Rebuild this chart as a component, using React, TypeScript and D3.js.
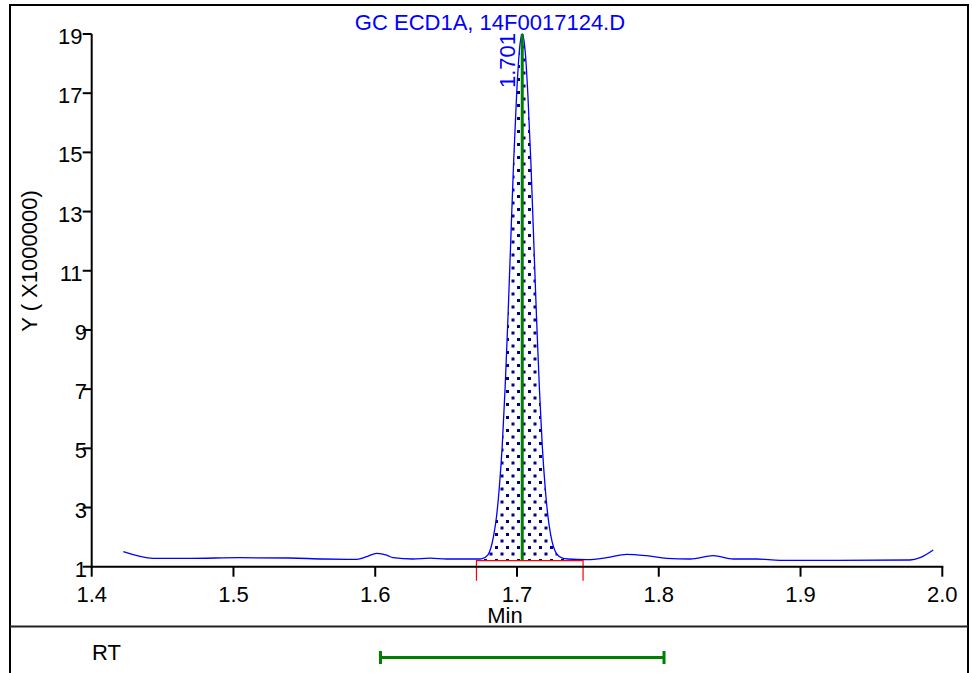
import React from "react";
import * as d3 from "d3";

// ---- data ----
const traceTimes = [
  1.4223, 1.4435, 1.4693, 1.5046, 1.5399, 1.5632, 1.5869, 1.594, 1.601, 1.6081,
  1.6125, 1.6266, 1.6386, 1.6504, 1.6739,
  1.6754, 1.6795, 1.6835, 1.6855, 1.6875, 1.6896, 1.6916, 1.6936, 1.6956, 1.6976,
  1.6997, 1.7017, 1.7037, 1.7057, 1.7077, 1.7098, 1.7118, 1.7138, 1.7158, 1.7178,
  1.7199, 1.7219, 1.7239, 1.728, 1.732, 1.736,
  1.7492, 1.7633, 1.7774, 1.7915, 1.8056, 1.8221, 1.8385, 1.8526, 1.8691, 1.8855,
  1.9255, 1.9772, 1.9843, 1.9936,
];
const traceValues = [
  1.507, 1.284, 1.284, 1.304, 1.294, 1.26, 1.25, 1.338, 1.453, 1.395,
  1.304, 1.26, 1.29, 1.26, 1.26,
  1.27, 1.4, 2.04, 2.67, 3.66, 5.1, 7.02, 9.38, 12.02, 14.65,
  16.92, 18.45, 19.0, 18.45, 16.92, 14.65, 12.02, 9.38, 7.02, 5.1,
  3.66, 2.67, 2.04, 1.43, 1.29, 1.26,
  1.237, 1.304, 1.419, 1.372, 1.284, 1.26, 1.372, 1.26, 1.26, 1.216,
  1.216, 1.226, 1.304, 1.564,
];
const xTicks = [1.4, 1.5, 1.6, 1.7, 1.8, 1.9, 2.0];
const yTicks = [1, 3, 5, 7, 9, 11, 13, 15, 17, 19];
const peakApex = 1.7037;
const peakLabel = "1.701";
const integStart = 1.6714;
const integEnd = 1.7466;
const integBaseline = 1.203;
const rtWindow = [1.6037, 1.8037];
const title = "GC ECD1A, 14F0017124.D";
const yTitle = "Y ( X1000000)";
const xTitle = "Min";
const rtLabel = "RT";

const FONT = "'Liberation Sans', Arial, sans-serif";

export default function App() {
  const x = d3.scaleLinear().domain([1.4, 2.0]).range([91.7, 942.3]);
  const y = d3.scaleLinear().domain([1, 19]).range([566.7, 34]);
  const pts = traceTimes.map((t, i) => [t, traceValues[i]] as [number, number]);
  const line = d3
    .line<[number, number]>()
    .x((d) => x(d[0]))
    .y((d) => y(d[1]))
    .curve(d3.curveMonotoneX);
  const area = d3
    .area<[number, number]>()
    .x((d) => x(d[0]))
    .y0(y(integBaseline))
    .y1((d) => y(d[1]))
    .curve(d3.curveMonotoneX);
  const fs = 22;
  const by = y(integBaseline);
  return (
    <svg
      width={972}
      height={673}
      style={{ position: "absolute", left: 0, top: 0, background: "#fff" }}
      fontFamily={FONT}
    >
      <defs>
        <pattern id="dots" width={11} height={13} patternUnits="userSpaceOnUse">
          <rect x={0} y={0} width={3} height={3} fill="#000080" />
          <rect x={5.5} y={6.5} width={3} height={3} fill="#000080" />
        </pattern>
        <clipPath id="integ">
          <rect x={x(integStart)} y={0} width={x(integEnd) - x(integStart)} height={by} />
        </clipPath>
      </defs>
      {/* frame */}
      <line x1={10} y1={5} x2={10} y2={673} stroke="#000" strokeWidth={2} />
      <line x1={9} y1={5} x2={969} y2={5} stroke="#000" strokeWidth={2} />
      <line x1={968} y1={5} x2={968} y2={673} stroke="#000" strokeWidth={2} />
      <line x1={10} y1={626.5} x2={968} y2={626.5} stroke="#222" strokeWidth={2} />

      {/* title */}
      <text x={490} y={30} fill="#0000ff" fontSize={fs} textAnchor="middle">
        {title}
      </text>

      {/* filled peak */}
      <path d={area(pts) || ""} fill="url(#dots)" clipPath="url(#integ)" />
      {/* trace */}
      <path d={line(pts) || ""} fill="none" stroke="#0000ff" strokeWidth={1.3} />
      {/* apex line */}
      <line
        x1={x(peakApex)}
        x2={x(peakApex)}
        y1={y(19)}
        y2={by}
        stroke="#008000"
        strokeWidth={3}
      />
      {/* integration baseline */}
      <path
        d={`M${x(integStart)},${by + 20}V${by}H${x(integEnd)}V${by + 20}`}
        fill="none"
        stroke="#ff0000"
        strokeWidth={1.2}
      />
      <text
        transform={`translate(${x(peakApex) - 7},88) rotate(-90)`}
        fill="#0000ff"
        fontSize={fs}
      >
        {peakLabel}
      </text>

      {/* y axis */}
      <line x1={x(1.4)} x2={x(1.4)} y1={y(19)} y2={y(1) + 1} stroke="#000" strokeWidth={2} />
      {yTicks.map((v) => (
        <g key={v}>
          <line x1={x(1.4) - 9} x2={x(1.4)} y1={y(v)} y2={y(v)} stroke="#000" strokeWidth={2} />
          <text
            x={v >= 10 ? 82.5 : 87}
            y={y(v) + 10}
            fontSize={fs}
            textAnchor="end"
            fill="#000"
          >
            {v}
          </text>
        </g>
      ))}
      <text
        transform={`translate(37,261) rotate(-90)`}
        fontSize={fs}
        textAnchor="middle"
        fill="#000"
      >
        {yTitle}
      </text>

      {/* x axis */}
      <line x1={x(1.4) - 1} x2={x(2.0) + 1} y1={y(1)} y2={y(1)} stroke="#000" strokeWidth={2} />
      {xTicks.map((v) => (
        <g key={v}>
          <line x1={x(v)} x2={x(v)} y1={y(1)} y2={y(1) + 10} stroke="#000" strokeWidth={2} />
          <text x={x(v)} y={602} fontSize={fs} textAnchor="middle" fill="#000">
            {v.toFixed(1)}
          </text>
        </g>
      ))}
      <text x={505} y={623} fontSize={fs} textAnchor="middle" fill="#000">
        {xTitle}
      </text>

      {/* RT panel */}
      <text x={92} y={660} fontSize={fs} fill="#000">
        {rtLabel}
      </text>
      <path
        d={`M${x(rtWindow[0])},651V664M${x(rtWindow[0])},657.5H${x(rtWindow[1])}M${x(
          rtWindow[1]
        )},651V664`}
        fill="none"
        stroke="#008000"
        strokeWidth={3}
      />
    </svg>
  );
}
